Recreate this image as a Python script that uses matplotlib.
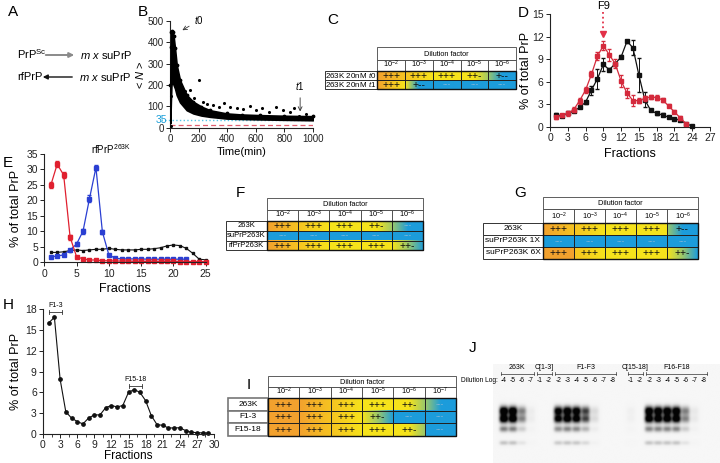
import numpy as np
import matplotlib
matplotlib.use('Agg')
import matplotlib.pyplot as plt
from matplotlib.patches import Rectangle
from matplotlib.ticker import MultipleLocator, AutoMinorLocator
from matplotlib.colors import to_rgb

plt.rcParams['font.family'] = ['Liberation Sans', 'DejaVu Sans']
plt.rcParams['mathtext.fontset'] = 'custom'
plt.rcParams['mathtext.rm'] = 'Liberation Sans'
plt.rcParams['mathtext.it'] = 'Liberation Sans:italic'

# ---------------- data ----------------
# Panel B: <N> vs time (dense cloud envelope + outliers)
b_t = [2, 6, 10, 15, 20, 25, 35, 47, 70, 117, 163, 220, 280, 396, 500, 630, 800, 1000]
b_upper = [200, 380, 450, 455, 450, 430, 371, 293, 222, 152, 121, 98, 81, 66, 61, 58, 55, 53]
b_lower = [20, 120, 200, 215, 210, 200, 183, 152, 118, 81, 66, 56, 50, 42, 40, 38, 36, 34]
b_out_t = [4, 6, 15, 28, 55, 80, 105, 140, 170, 202, 230, 260, 300, 340, 380, 420, 470, 510,
           560, 600, 640, 690, 740, 790, 840, 870, 905, 950]
b_out_n = [5, 150, 300, 260, 230, 190, 170, 175, 140, 222, 120, 110, 105, 97, 115, 95, 90, 85,
           100, 80, 90, 75, 95, 80, 75, 90, 55, 65]
b_threshold = 35
b_baseline = 12

# Panel D
d_frac_black = list(range(1, 25))
d_black = [1.6, 1.5, 1.8, 2.1, 2.6, 3.3, 4.9, 6.4, 8.3, 7.6, 8.4, 9.3, 11.4, 10.5, 6.9, 3.6,
           2.2, 1.8, 1.6, 1.3, 1.1, 0.9, 0.45, 0.1]
d_black_err = [0.2, 0.2, 0.1, 0.1, 0.1, 0.2, 0.6, 1.3, 0.9, 0.2, 0.2, 0.2, 0.2, 1.0, 2.2, 1.0,
               0.1, 0.2, 0.2, 0.1, 0.1, 0.1, 0.1, 0.05]
d_frac_red = list(range(1, 24))
d_red = [1.3, 1.55, 1.8, 2.3, 3.5, 4.9, 7.0, 9.4, 10.8, 9.6, 8.4, 6.1, 4.5, 3.5, 3.5, 3.8, 4.0,
         3.9, 3.6, 2.8, 2.0, 1.2, 0.4]
d_red_err = [0.2, 0.2, 0.3, 0.3, 0.4, 0.4, 0.4, 0.5, 0.6, 0.8, 0.6, 0.8, 0.7, 0.7, 0.3, 0.3, 0.3,
             0.3, 0.3, 0.2, 0.2, 0.3, 0.1]

# Panel E
e_frac = list(range(1, 26))
e_red = [24.9, 31.7, 28.2, 8.1, 1.8, 1.1, 0.75, 0.75, 0.5, 0.5, 0.4, 0.4, 0.4, 0.3, 0.3, 0.3,
         0.3, 0.3, 0.3, 0.3, 0.25, 0.25, 0.2, 0.2, 0.2]
e_red_err = [1.0, 1.0, 1.0, 0.8] + [0.2] * 21
e_frac_blue = list(range(1, 23))
e_blue = [1.8, 2.0, 2.4, 4.0, 5.9, 10.1, 20.6, 30.6, 9.8, 2.4, 1.3, 1.1, 1.1, 1.1, 1.1, 1.0,
          1.0, 1.0, 1.0, 1.0, 1.0, 1.0]
e_blue_err = [0.2, 0.2, 0.2, 0.3, 0.5, 0.8, 1.0, 0.8, 0.8, 0.3] + [0.2] * 12
e_black = [3.2, 3.2, 3.4, 3.8, 4.0, 3.8, 4.0, 4.2, 4.2, 4.5, 4.2, 4.0, 4.0, 4.0, 4.2, 4.2, 4.4,
           4.7, 5.3, 5.6, 5.4, 4.5, 2.9, 1.0, 0.8]

# Panel H
h_frac = list(range(1, 30))
h_vals = [16.0, 16.8, 7.9, 3.2, 2.3, 1.8, 1.45, 2.3, 2.75, 2.75, 3.8, 4.1, 3.9, 4.1, 6.0, 6.4,
          6.0, 4.8, 2.65, 1.35, 1.25, 0.87, 0.87, 0.9, 0.5, 0.25, 0.2, 0.15, 0.15]

# Tables
C_rows = [r'263K 20nM $\mathit{t0}$', r'263K 20nM $\mathit{t1}$']
C_exps = [-2, -3, -4, -5, -6]
C_text = [['+++', '+++', '+++', '++-', '+--'], ['+++', '+--', '---', '---', '---']]
C_grad = [['OP', 'PY', 'Y', 'YYG', 'GBB'], ['OY', 'YBB', 'B', 'B', 'B']]

F_rows = ['263K', 'suPrP263K', 'rfPrP263K']
F_exps = [-2, -3, -4, -5, -6]
F_text = [['+++', '+++', '+++', '++-', '---'], ['---'] * 5, ['+++', '+++', '+++', '+++', '++-']]
F_grad = [['OP', 'PY', 'Y', 'YYG', 'GBB'], ['B'] * 5, ['OP', 'PY', 'Y', 'Y', 'YGB']]

G_rows = ['263K', 'suPrP263K 1X', 'suPrP263K 6X']
G_exps = [-2, -3, -4, -5, -6]
G_text = [['+++', '+++', '+++', '+++', '+--'], ['---'] * 5, ['+++', '+++', '+++', '+++', '++-']]
G_grad = [['OP', 'PY', 'Y', 'Y', 'GBB'], ['B'] * 5, ['O', 'PY', 'Y', 'Y', 'YGB']]

I_rows = ['263K', 'F1-3', 'F15-18']
I_exps = [-2, -3, -4, -5, -6, -7]
I_text = [['+++', '+++', '+++', '+++', '++-', '---'],
          ['+++', '+++', '+++', '++-', '---', '---'],
          ['+++', '+++', '+++', '+++', '++-', '---']]
I_grad = [['O', 'OP', 'PY', 'Y', 'YYG', 'GBB'],
          ['O', 'OP', 'PY', 'YGB', 'B', 'B'],
          ['O', 'OP', 'PY', 'Y', 'YYG', 'B']]

# Panel J blot
J_groups = ['263K', 'C[1-3]', 'F1-F3', 'C[15-18]', 'F16-F18']
J_dil = [[-4, -5, -6, -7], [-1, -2], [-2, -3, -4, -5, -6, -7, -8], [-1, -2],
         [-2, -3, -4, -5, -6, -7, -8]]
J_int = [[1.0, 1.0, 0.35, 0.03], [0.0, 0.0], [0.85, 0.95, 0.9, 0.55, 0.08, 0.0, 0.0],
         [0.02, 0.0], [0.95, 0.95, 0.95, 0.95, 0.35, 0.04, 0.0]]
J_gap = [0, 0, 0, 1, 0]

# ---------------- layout helpers ----------------
W, H = 720, 463
fig = plt.figure(figsize=(7.2, 4.63), dpi=100)


def ax_px(x0, y0, x1, y1):
    return fig.add_axes([x0 / W, 1 - y1 / H, (x1 - x0) / W, (y1 - y0) / H])


def style(ax, fs=7):
    for s in ['top', 'right']:
        ax.spines[s].set_visible(False)
    for s in ['left', 'bottom']:
        ax.spines[s].set_linewidth(0.8)
        ax.spines[s].set_color('#222')
    ax.tick_params(direction='out', length=3, width=0.7, labelsize=fs, pad=1.5,
                   colors='#222')
    ax.tick_params(which='minor', direction='out', length=1.8, width=0.6, colors='#222')
    ax.patch.set_alpha(0)


def letter(x, y, s):
    fig.text(x / W, 1 - y / H, s, fontsize=11, va='center', ha='left')


COL = {'O': '#F2A12E', 'P': '#F6C321', 'Y': '#F6E31B', 'G': '#9CC86A', 'B': '#1C9CDB'}


def grad_img(code, n=60):
    stops = np.array([to_rgb(COL[c]) for c in code])
    if len(stops) == 1:
        return np.tile(stops[0], (1, n, 1))
    xs = np.linspace(0, 1, n)
    sp = np.linspace(0, 1, len(stops))
    img = np.stack([np.interp(xs, sp, stops[:, k]) for k in range(3)], axis=-1)
    return img[None, :, :]


def draw_table(x_lab, x_col, col_w, y_top, hdr_h, exp_h, row_h, rows, exps, texts, grads,
               fs_lab=6, lab_edge='#333', lab_lw=0.7):
    n = len(exps)
    m = len(rows)
    tot = hdr_h + exp_h + m * row_h
    ax = ax_px(x_lab, y_top, x_col + n * col_w, y_top + tot)
    ax.axis('off')
    Lw = (x_col - x_lab) / col_w
    ax.add_patch(Rectangle((0, 0), n, hdr_h, fc='white', ec='#444', lw=0.6, clip_on=False))
    ax.text(n / 2, hdr_h / 2 + 0.5, 'Dilution factor', ha='center', va='center', fontsize=5.3,
            fontstretch='condensed')
    for i, e in enumerate(exps):
        ax.add_patch(Rectangle((i, hdr_h), 1, exp_h, fc='white', ec='#444', lw=0.6,
                               clip_on=False))
        ax.text(i + 0.5, hdr_h + exp_h - 0.8, r'$10^{%d}$' % e, ha='center', va='bottom',
                fontsize=5.3)
    for j, r in enumerate(rows):
        y0 = hdr_h + exp_h + j * row_h
        ax.add_patch(Rectangle((-Lw, y0), Lw, row_h, fc='white', ec=lab_edge, lw=lab_lw,
                               clip_on=False))
        ax.text(-Lw / 2, y0 + row_h / 2, r, ha='center', va='center', fontsize=fs_lab)
        for i in range(n):
            ax.imshow(grad_img(grads[j][i]), extent=(i, i + 1, y0 + row_h, y0), aspect='auto',
                      interpolation='bilinear')
            ax.add_patch(Rectangle((i, y0), 1, row_h, fill=False, ec='#222', lw=0.7,
                                   clip_on=False))
            t = texts[j][i]
            col = '#8fb9d6' if t == '---' else '#111'
            ax.text(i + 0.5, y0 + row_h / 2 + 0.3, t, ha='center', va='center',
                    fontsize=7.5 if t != '---' else 6, color=col)
    ax.add_patch(Rectangle((0, hdr_h + exp_h), n, m * row_h, fill=False, ec='#111', lw=1.0,
                           clip_on=False))
    ax.set_xlim(-Lw, n)
    ax.set_ylim(tot, 0)
    return ax


# ---------------- Panel A ----------------
axA = ax_px(0, 30, 135, 100)
axA.axis('off')
axA.set_xlim(0, 135)
axA.set_ylim(100, 30)
axA.text(17, 54, r'PrP$^{\mathrm{Sc}}$', fontsize=8, va='center')
axA.annotate('', xy=(77, 55), xytext=(43, 55),
             arrowprops=dict(arrowstyle='-|>', color='#8a8a8a', lw=1.4, mutation_scale=7))
axA.text(80, 55, r'$\mathit{m\ x}$ suPrP', fontsize=8, va='center')
axA.text(17, 77, 'rfPrP', fontsize=8, va='center')
axA.annotate('', xy=(40, 77), xytext=(75, 77),
             arrowprops=dict(arrowstyle='-|>', color='#111', lw=1.0, mutation_scale=7))
axA.text(79, 77, r'$\mathit{m\ x}$ suPrP', fontsize=8, va='center')

# ---------------- Panel B ----------------
axB = ax_px(170, 21, 313, 127.5)
style(axB, 7)
axB.fill_between(b_t, b_lower, b_upper, color='black', lw=1.2, zorder=3)
axB.scatter(b_t, b_upper, s=3, color='black', zorder=3, clip_on=False)
axB.scatter(b_out_t, b_out_n, s=1.5, color='black', zorder=3, clip_on=False)
axB.axhline(b_threshold, xmin=-0.06, xmax=1.0, color='#56c3e6', ls=':', lw=1.0, zorder=2,
            clip_on=False)
axB.axhline(b_baseline, color='#e06070', ls=(0, (4, 2.5)), lw=0.9, zorder=2)
axB.set_xlim(0, 1000)
axB.set_ylim(0, 500)
axB.xaxis.set_major_locator(MultipleLocator(200))
axB.yaxis.set_major_locator(MultipleLocator(100))
axB.text(-60, b_threshold, str(b_threshold), color='#1a9ed8', fontsize=7.5, ha='center',
         va='center', clip_on=False)
axB.set_xlabel('Time(min)', fontsize=8, labelpad=2)
axB.set_ylabel(r'< $N$ >', fontsize=8, labelpad=1)
axB.annotate(r'$\mathit{t0}$', xy=(70, 450), xytext=(170, 485), fontsize=7,
             arrowprops=dict(arrowstyle='->', color='#333', lw=0.6), annotation_clip=False)
axB.annotate(r'$\mathit{t1}$', xy=(910, 62), xytext=(910, 175), fontsize=7, ha='center',
             arrowprops=dict(arrowstyle='->', color='#333', lw=0.6))

# ---------------- Panel C ----------------
draw_table(325, 377.3, 27.75, 47, 13, 11, 9, C_rows, C_exps, C_text, C_grad, fs_lab=5.8)

# ---------------- Panel D ----------------
axD = ax_px(550, 14, 710, 127)
style(axD, 7.5)
axD.errorbar(d_frac_black, d_black, yerr=d_black_err, color='#111', marker='s', ms=2.2,
             lw=0.9, elinewidth=0.7, capsize=1.6, clip_on=False, zorder=3)
axD.errorbar(d_frac_red, d_red, yerr=d_red_err, color='#d42a3c', marker='s', ms=2.2,
             lw=0.9, elinewidth=0.7, capsize=1.6, clip_on=False, zorder=4)
axD.set_xlim(0, 27)
axD.set_ylim(0, 15)
axD.xaxis.set_major_locator(MultipleLocator(3))
axD.yaxis.set_major_locator(MultipleLocator(3))
axD.set_xlabel('Fractions', fontsize=9)
axD.set_ylabel('% of total PrP', fontsize=9)
axD.xaxis.set_label_coords(0.5, -0.19)
axD.yaxis.set_label_coords(-0.115, 0.5)
axD.plot([9, 9], [15.3, 12.6], color='#e23048', ls=':', lw=1.3, clip_on=False)
axD.plot([9], [12.4], marker='v', color='#e23048', ms=5, clip_on=False)
axD.text(9, 16.05, 'F9', ha='center', va='center', fontsize=8)

# ---------------- Panel E ----------------
axE = ax_px(44.3, 154, 205.7, 262.3)
style(axE, 7.5)
axE.plot(e_frac, e_black, color='#111', marker='s', ms=1.8, lw=0.8, clip_on=False)
axE.errorbar(e_frac_blue, e_blue, yerr=e_blue_err, color='#2a3fd2', marker='s', ms=2.2,
             lw=0.9, elinewidth=0.7, capsize=1.4, clip_on=False)
axE.errorbar(e_frac, e_red, yerr=e_red_err, color='#e0202f', marker='s', ms=2.2, lw=0.9,
             elinewidth=0.7, capsize=1.4, clip_on=False)
axE.set_xlim(0, 25)
axE.set_ylim(0, 35)
axE.xaxis.set_major_locator(MultipleLocator(5))
axE.yaxis.set_major_locator(MultipleLocator(5))
axE.set_xlabel('Fractions', fontsize=9)
axE.set_ylabel('% of total PrP', fontsize=9)
axE.xaxis.set_label_coords(0.5, -0.19)
axE.yaxis.set_label_coords(-0.14, 0.5)
axE.text(7.2, 34.5, r'rfPrP$^{263\mathrm{K}}$', fontsize=7, va='bottom', clip_on=False)

# ---------------- Panel F & G ----------------
draw_table(226, 267, 31.2, 198, 11.5, 11.5, 9.8, F_rows, F_exps, F_text, F_grad, fs_lab=5.5)
draw_table(483, 543, 31.0, 197, 12, 14, 12, G_rows, G_exps, G_text, G_grad, fs_lab=6)

# ---------------- Panel H ----------------
axH = ax_px(43, 309, 214, 434)
style(axH, 7.5)
axH.plot(h_frac, h_vals, color='#111', marker='o', ms=2.4, lw=0.8, clip_on=False)
axH.set_xlim(0, 30)
axH.set_ylim(0, 18)
axH.xaxis.set_major_locator(MultipleLocator(3))
axH.yaxis.set_major_locator(MultipleLocator(3))
axH.xaxis.set_minor_locator(AutoMinorLocator(2))
axH.set_xlabel('Fractions', fontsize=8.5)
axH.set_ylabel('% of total PrP', fontsize=9)
axH.xaxis.set_label_coords(0.5, -0.13)
axH.yaxis.set_label_coords(-0.125, 0.5)
for (x0, x1, yb, lab) in [(1, 3.3, 17.6, 'F1-3'), (15, 17.4, 6.9, 'F15-18')]:
    axH.plot([x0, x1], [yb, yb], color='#333', lw=0.6, clip_on=False)
    axH.plot([x0, x0], [yb - 0.3, yb + 0.3], color='#333', lw=0.6, clip_on=False)
    axH.plot([x1, x1], [yb - 0.3, yb + 0.3], color='#333', lw=0.6, clip_on=False)
    axH.text((x0 + x1) / 2, yb + 0.4, lab, ha='center', va='bottom', fontsize=5,
             clip_on=False)

# ---------------- Panel I ----------------
draw_table(228, 268, 31.3, 376, 11, 11, 12.6, I_rows, I_exps, I_text, I_grad,
           fs_lab=6, lab_edge='#777', lab_lw=1.2)

# ---------------- Panel J ----------------
slot_w = 9.1
x_slot0 = 503.6
axJ = ax_px(493, 364, 720, 463)
xl = (493 - x_slot0) / slot_w
xr = (720 - x_slot0) / slot_w
axJ.set_xlim(xl, xr)
axJ.set_ylim(99, 0)
axJ.axis('off')
slots = []
s = 0
for g, dil in enumerate(J_dil):
    s += J_gap[g]
    slots.append([s + k for k in range(len(dil))])
    s += len(dil)
nx, ny = 460, 200
xs = np.linspace(xl, xr, nx)
ys = np.linspace(0, 99, ny)
X, Y = np.meshgrid(xs, ys)
dark = np.zeros_like(X)
band_rows = [(47, 4.5, 1.0), (55, 4.0, 0.95), (65, 3.0, 0.35), (79, 2.2, 0.15)]
for g, ints in enumerate(J_int):
    for k, inten in enumerate(ints):
        if inten <= 0:
            continue
        c = slots[g][k]
        hx = np.exp(-np.abs((X - c) / 0.47) ** 3)
        vy = sum(a * np.exp(-((Y - yc) / sg) ** 2) for yc, sg, a in band_rows)
        dark += inten * hx * vy * 1.4
img = 0.965 - 0.95 * np.clip(dark, 0, 1)
axJ.imshow(img, extent=(xl, xr, 99, 0), cmap='gray', vmin=0, vmax=1, aspect='auto',
           interpolation='bilinear')
axJ.text(-0.6, 16, 'Dilution Log:', ha='right', va='center', fontsize=4.8, clip_on=False)
for g, dil in enumerate(J_dil):
    for k, d in enumerate(dil):
        axJ.text(slots[g][k], 16, str(d), ha='center', va='center', fontsize=4.8)
    a = slots[g][0] - 0.3
    b = slots[g][-1] + 0.3
    axJ.plot([a, b], [9.5, 9.5], color='#333', lw=0.5)
    axJ.plot([a, a], [8, 11], color='#333', lw=0.5)
    axJ.plot([b, b], [8, 11], color='#333', lw=0.5)
    axJ.text((a + b) / 2, 3.5, J_groups[g], ha='center', va='center', fontsize=5)

# ---------------- Panel letters ----------------
letter(8, 12, 'A')
letter(138, 12, 'B')
letter(327, 20, 'C')
letter(518, 13, 'D')
letter(3, 163, 'E')
letter(236, 193, 'F')
letter(514, 193, 'G')
letter(3, 305, 'H')
letter(247, 385, 'I')
letter(469, 348, 'J')

fig.savefig('out.png', dpi=100)
